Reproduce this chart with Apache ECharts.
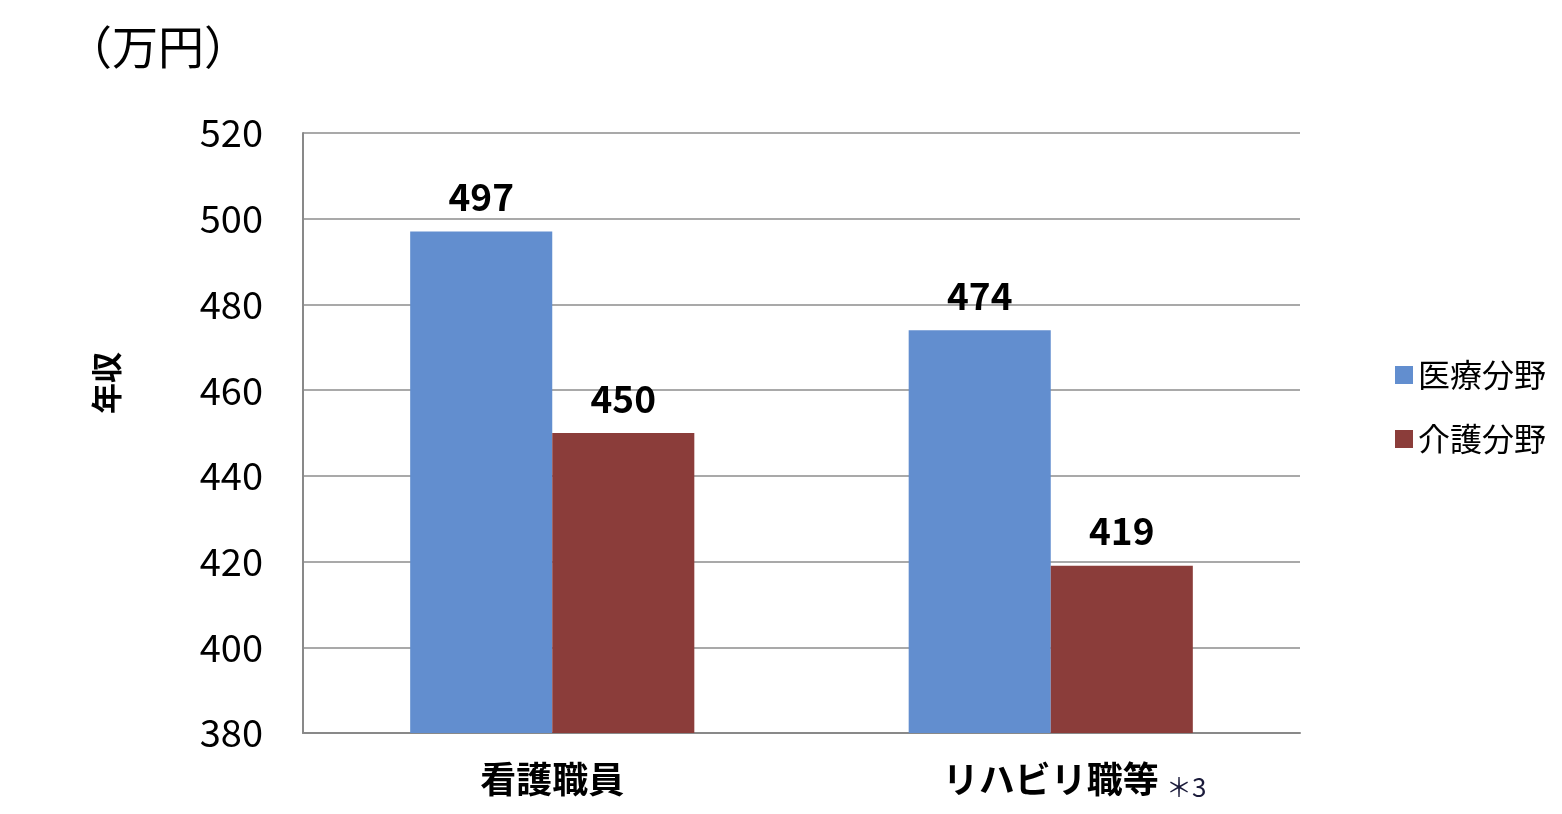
<!DOCTYPE html>
<html>
<head>
<meta charset="utf-8">
<script src="https://cdn.jsdelivr.net/npm/echarts@6/dist/echarts.min.js"></script>
<style>
  html, body { margin: 0; padding: 0; background: #fff; }
  #chart { width: 1562px; height: 814px; }
</style>
</head>
<body>
<div id="chart"></div>
<script>
const categories = ['看護職員', 'リハビリ職等'];
const seriesNames = ['医療分野', '介護分野'];
const iryoValues = [497, 474];
const kaigoValues = [450, 419];
const yTicks = [380, 400, 420, 440, 460, 480, 500, 520];

const font = '"Noto Sans CJK JP", "Noto Sans", sans-serif';
const myChart = echarts.init(document.getElementById('chart'));

myChart.setOption({
  animation: false,
  textStyle: { fontFamily: font },
  color: ['#628ECF', '#8B3D3A'],
  grid: { left: 303, right: 262, top: 133, bottom: 81, containLabel: false },
  graphic: [
    {
      type: 'text', left: 66, top: 24,
      style: { text: '（万円）', fontSize: 46, fontFamily: font, fill: '#000' }
    },
    {
      // y軸名（中央より上に置かれている）
      type: 'text', x: 106, y: 383, rotation: Math.PI / 2,
      style: { text: '年収', fontSize: 31, fontWeight: 'bold', fontFamily: font, fill: '#000', align: 'center', verticalAlign: 'middle' }
    },
    {
      type: 'text', left: 1166, top: 774,
      style: { text: '＊3', fontSize: 26, fontFamily: font, fill: '#1a1a3a' }
    }
  ],
  legend: {
    orient: 'vertical',
    left: 1390,
    top: 354,
    itemWidth: 18,
    itemHeight: 18,
    itemGap: 32,
    icon: 'rect',
    textStyle: { fontSize: 32, color: '#000', fontFamily: font },
    data: seriesNames
  },
  xAxis: {
    type: 'category',
    data: categories,
    axisTick: { show: false },
    axisLine: { lineStyle: { color: '#898989', width: 2 } },
    axisLabel: { color: '#000', fontSize: 36, fontWeight: 'bold', margin: 28 }
  },
  yAxis: {
    type: 'value',
    min: yTicks[0],
    max: yTicks[yTicks.length - 1],
    interval: 20,
    axisLine: { show: true, lineStyle: { color: '#898989', width: 2 } },
    axisTick: { show: false },
    axisLabel: { color: '#000', fontSize: 38, margin: 40 },
    splitLine: { lineStyle: { color: '#8c8c8c', width: 1.5 } }
  },
  series: [
    {
      name: seriesNames[0],
      type: 'bar',
      data: iryoValues,
      barGap: '0%',
      barCategoryGap: '43%',
      label: { show: true, position: 'top', distance: 16, fontSize: 37, fontWeight: 'bold', color: '#000' }
    },
    {
      name: seriesNames[1],
      type: 'bar',
      data: kaigoValues,
      label: { show: true, position: 'top', distance: 16, fontSize: 37, fontWeight: 'bold', color: '#000' }
    }
  ]
});

window.onresize = function () {
  myChart.resize();
};
</script>
</body>
</html>
